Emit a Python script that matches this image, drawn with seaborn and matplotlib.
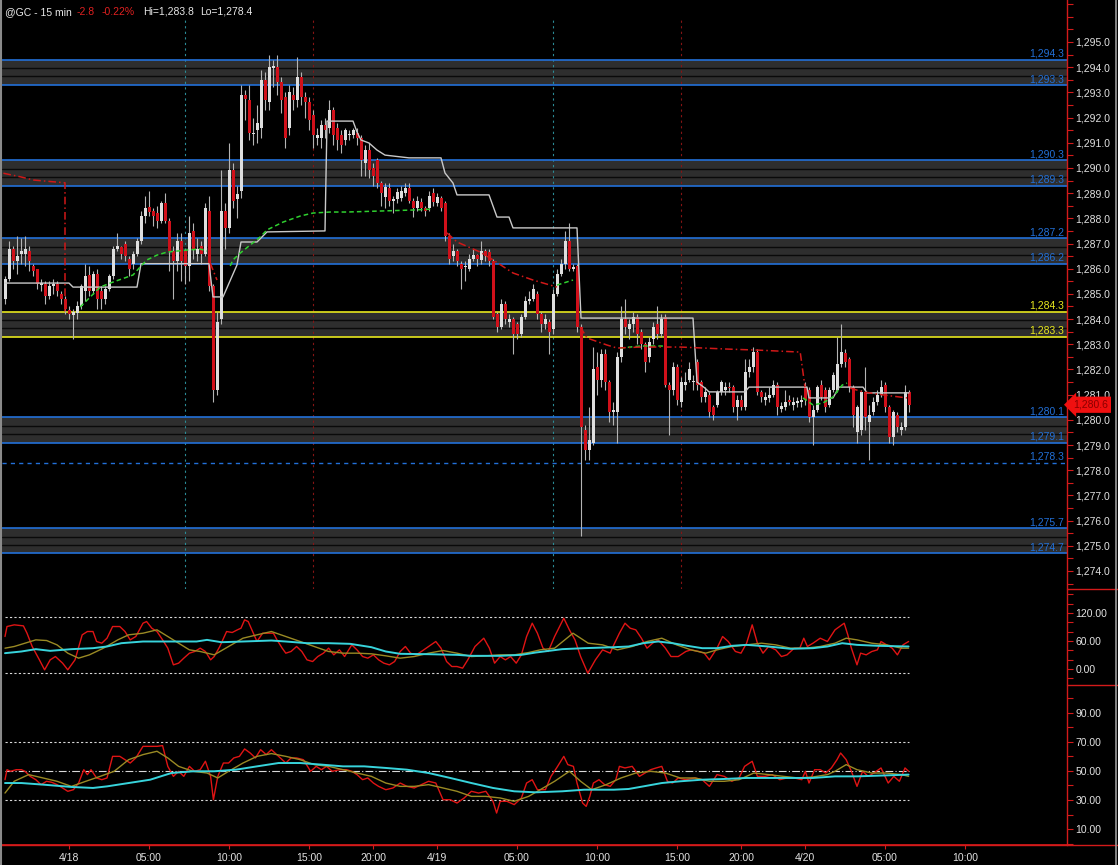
import numpy as np
import pandas as pd
import matplotlib
matplotlib.use("Agg")
import matplotlib.pyplot as plt
import seaborn as sns
from matplotlib.lines import Line2D
from matplotlib.ticker import MultipleLocator, FuncFormatter
from matplotlib.transforms import blended_transform_factory

# ---------------- price bars (15 min, bar index 0 = 4/17 20:00) ----------------
opens = [1284.8, 1285.6, 1286.8, 1286.3, 1286.6, 1286.6, 1286.7, 1286.1, 1286.0, 1285.35,
         1285.4, 1284.9, 1285.3, 1285.4, 1285.0, 1284.8, 1284.35, 1284.15, 1284.25, 1284.5,
         1285.1, 1285.75, 1285.1, 1285.8, 1285.1, 1284.8, 1285.2, 1285.7, 1286.8, 1286.85,
         1287.0, 1286.4, 1286.2, 1286.6, 1287.1, 1288.1, 1288.45, 1288.3, 1288.2, 1287.9,
         1288.6, 1287.9, 1286.7, 1286.3, 1287.1, 1286.7, 1286.1, 1287.5, 1286.6, 1286.9,
         1286.6, 1288.3, 1285.3, 1281.2, 1284.0, 1288.3, 1287.6, 1289.9, 1288.75, 1289.1,
         1292.9, 1292.7, 1291.35, 1291.5, 1291.6, 1293.5, 1292.6, 1293.95, 1294.0, 1293.4,
         1292.8, 1291.6, 1292.9, 1292.7, 1293.6, 1292.8, 1292.6, 1292.1, 1291.2, 1291.2,
         1291.7, 1291.6, 1292.3, 1291.6, 1291.3, 1291.1, 1291.3, 1291.3, 1291.4, 1291.2,
         1290.2, 1290.7, 1290.0, 1290.3, 1289.4, 1288.85, 1289.2, 1288.7, 1288.75, 1288.8,
         1289.0, 1289.2, 1288.7, 1288.4, 1288.65, 1288.4, 1288.4, 1289.0, 1288.6, 1288.8,
         1288.6, 1287.3, 1286.5, 1286.7, 1286.2, 1286.05, 1286.0, 1286.4, 1286.55, 1286.35,
         1286.7, 1286.65, 1286.3, 1284.2, 1283.7, 1284.6, 1283.9, 1284.0, 1283.8, 1283.4,
         1284.1, 1284.7, 1284.8, 1285.0, 1284.2, 1283.8, 1283.9, 1283.6, 1285.0, 1285.8,
         1286.2, 1287.1, 1286.0, 1286.1, 1283.7, 1279.6, 1278.8, 1279.1, 1282.1, 1281.6,
         1282.6, 1281.5, 1280.3, 1280.3, 1282.5, 1284.0, 1283.6, 1283.8, 1284.1, 1283.5,
         1283.0, 1282.5, 1283.2, 1283.8, 1283.4, 1284.1, 1281.4, 1281.2, 1282.1, 1280.7,
         1281.4, 1281.6, 1281.5, 1282.3, 1281.5, 1280.9, 1281.0, 1280.5, 1280.6, 1281.1,
         1281.2, 1281.3, 1281.3, 1280.5, 1280.8, 1280.5, 1281.9, 1282.1, 1282.7, 1281.1,
         1280.8, 1280.85, 1281.0, 1281.4, 1280.45, 1280.5, 1280.8, 1280.6, 1280.65, 1280.7,
         1281.3, 1281.2, 1280.1, 1280.4, 1281.4, 1281.2, 1280.6, 1281.2, 1281.2, 1282.2,
         1282.65, 1282.4, 1281.3, 1279.5, 1279.6, 1281.1, 1279.9, 1280.3, 1280.7, 1281.0,
         1281.4, 1280.5, 1279.3, 1280.2, 1279.6, 1279.7, 1281.1]
highs = [1285.7, 1287.1, 1286.9, 1287.3, 1287.2, 1287.3, 1286.9, 1286.2, 1286.0, 1285.6,
         1285.5, 1285.5, 1285.6, 1285.5, 1285.1, 1284.9, 1284.5, 1284.4, 1284.7, 1285.4,
         1286.2, 1286.1, 1285.9, 1286.0, 1285.3, 1285.3, 1285.8, 1286.9, 1287.4, 1286.9,
         1287.1, 1286.5, 1286.7, 1287.2, 1288.3, 1288.9, 1289.1, 1288.4, 1288.5, 1288.7,
         1289.0, 1288.0, 1286.9, 1287.4, 1287.4, 1286.8, 1288.1, 1287.8, 1287.2, 1287.1,
         1288.6, 1288.9, 1285.4, 1284.3, 1289.9, 1288.6, 1291.0, 1290.2, 1289.3, 1293.3,
         1293.1, 1293.3, 1292.0, 1292.5, 1293.9, 1293.8, 1294.5, 1294.3, 1294.5, 1293.6,
         1293.0, 1293.3, 1293.2, 1294.4, 1293.8, 1293.0, 1292.8, 1292.3, 1291.6, 1291.9,
         1292.0, 1292.7, 1292.4, 1291.8, 1291.5, 1291.6, 1291.5, 1291.6, 1291.6, 1291.3,
         1290.9, 1291.0, 1290.2, 1290.4, 1289.5, 1289.4, 1289.4, 1288.9, 1289.2, 1289.3,
         1289.4, 1289.4, 1288.8, 1288.9, 1288.8, 1288.5, 1289.1, 1289.2, 1289.0, 1288.9,
         1288.7, 1287.4, 1287.0, 1286.8, 1286.3, 1286.3, 1286.6, 1286.8, 1286.6, 1287.1,
         1286.8, 1286.8, 1286.4, 1284.3, 1284.8, 1284.7, 1284.2, 1284.1, 1283.9, 1284.2,
         1284.9, 1285.1, 1285.4, 1285.1, 1284.3, 1284.2, 1284.0, 1285.2, 1286.0, 1286.4,
         1287.5, 1287.8, 1286.2, 1286.2, 1283.8, 1279.8, 1280.5, 1282.9, 1282.7, 1282.8,
         1282.8, 1281.6, 1280.7, 1282.7, 1284.5, 1284.8, 1284.0, 1284.3, 1284.2, 1283.6,
         1283.1, 1283.3, 1283.9, 1284.5, 1284.2, 1284.2, 1281.5, 1282.3, 1282.2, 1281.7,
         1281.9, 1282.3, 1281.8, 1282.4, 1281.6, 1281.3, 1281.1, 1280.6, 1281.2, 1281.6,
         1281.5, 1281.5, 1281.4, 1281.0, 1281.0, 1282.4, 1282.4, 1282.9, 1282.8, 1281.2,
         1281.1, 1281.3, 1281.6, 1281.5, 1280.7, 1281.2, 1281.0, 1280.9, 1280.9, 1281.0,
         1281.5, 1281.3, 1280.6, 1281.4, 1281.6, 1281.3, 1281.3, 1281.9, 1283.3, 1283.8,
         1282.8, 1282.5, 1281.4, 1280.6, 1281.2, 1282.1, 1280.6, 1280.9, 1281.2, 1281.6,
         1281.5, 1280.6, 1280.4, 1280.3, 1279.9, 1281.4, 1281.2]
lows = [1284.6, 1285.5, 1286.0, 1285.8, 1286.2, 1286.1, 1285.9, 1285.7, 1285.2, 1285.1,
        1284.6, 1284.8, 1285.0, 1284.9, 1284.6, 1284.2, 1284.0, 1283.2, 1284.0, 1284.4,
        1284.7, 1284.9, 1285.0, 1284.4, 1284.4, 1284.6, 1285.1, 1285.6, 1286.7, 1286.4,
        1286.3, 1285.7, 1286.0, 1286.5, 1287.0, 1287.8, 1288.1, 1287.7, 1287.6, 1287.8,
        1287.8, 1285.9, 1284.8, 1285.9, 1285.5, 1285.4, 1285.5, 1286.4, 1286.3, 1286.2,
        1286.5, 1285.1, 1280.7, 1281.0, 1283.8, 1286.8, 1287.4, 1288.4, 1288.0, 1288.8,
        1291.9, 1291.1, 1290.9, 1291.0, 1291.2, 1292.3, 1292.3, 1293.2, 1292.9, 1292.2,
        1290.8, 1291.3, 1292.3, 1292.4, 1292.5, 1292.0, 1291.5, 1290.8, 1290.9, 1290.8,
        1291.2, 1291.4, 1290.9, 1290.7, 1290.6, 1290.9, 1291.1, 1291.2, 1290.9, 1289.7,
        1289.7, 1289.6, 1289.3, 1289.2, 1288.5, 1288.4, 1288.5, 1288.2, 1288.6, 1288.7,
        1288.9, 1288.6, 1288.05, 1288.3, 1288.3, 1288.1, 1288.3, 1288.5, 1288.5, 1288.3,
        1287.1, 1286.2, 1286.3, 1286.1, 1285.2, 1285.5, 1285.9, 1286.3, 1286.1, 1286.2,
        1286.3, 1286.1, 1284.0, 1283.5, 1283.6, 1283.8, 1283.7, 1282.6, 1283.2, 1283.3,
        1284.0, 1284.6, 1284.7, 1284.0, 1283.5, 1283.6, 1282.6, 1283.4, 1284.9, 1285.7,
        1286.0, 1285.9, 1285.9, 1283.5, 1275.4, 1278.4, 1278.4, 1279.0, 1281.0, 1281.3,
        1281.2, 1279.9, 1279.8, 1279.1, 1282.3, 1283.4, 1283.2, 1283.5, 1283.0, 1282.8,
        1281.9, 1282.3, 1283.0, 1283.2, 1283.3, 1281.3, 1279.4, 1281.0, 1280.6, 1280.5,
        1281.2, 1281.5, 1281.2, 1281.2, 1280.7, 1280.7, 1280.1, 1280.0, 1280.5, 1281.0,
        1281.0, 1281.1, 1280.3, 1280.0, 1280.4, 1280.4, 1281.7, 1281.9, 1281.0, 1280.7,
        1280.6, 1280.7, 1280.9, 1280.2, 1280.3, 1280.4, 1280.6, 1280.4, 1280.5, 1280.5,
        1280.6, 1279.9, 1279.0, 1280.3, 1280.8, 1280.3, 1280.5, 1281.1, 1281.1, 1282.1,
        1282.1, 1281.1, 1279.7, 1279.1, 1279.4, 1279.6, 1278.4, 1280.2, 1280.6, 1280.9,
        1280.3, 1279.1, 1279.0, 1279.5, 1279.4, 1279.6, 1280.3]
closes = [1285.6, 1286.8, 1286.3, 1286.5, 1286.7, 1286.8, 1286.3, 1285.9, 1285.4, 1285.45,
          1284.9, 1285.3, 1285.4, 1285.1, 1284.8, 1284.4, 1284.2, 1284.3, 1284.5, 1285.3,
          1285.7, 1285.1, 1285.8, 1284.8, 1284.8, 1285.2, 1285.7, 1286.8, 1286.9, 1286.6,
          1286.5, 1286.0, 1286.6, 1287.1, 1288.1, 1288.4, 1288.25, 1288.1, 1287.9, 1288.6,
          1287.9, 1286.7, 1286.3, 1287.1, 1286.3, 1286.1, 1287.4, 1286.8, 1286.8, 1286.6,
          1288.4, 1285.3, 1281.2, 1283.9, 1288.3, 1287.6, 1289.9, 1288.7, 1288.95, 1292.9,
          1292.75, 1291.4, 1291.4, 1291.8, 1293.5, 1292.7, 1294.0, 1294.05, 1293.4, 1292.7,
          1291.2, 1293.0, 1292.7, 1293.6, 1292.8, 1292.6, 1291.9, 1291.3, 1291.3, 1291.7,
          1291.5, 1292.3, 1291.3, 1291.1, 1290.9, 1291.5, 1291.35, 1291.5, 1291.2, 1290.3,
          1290.7, 1289.9, 1289.7, 1289.4, 1289.0, 1289.25, 1288.7, 1288.75, 1289.05, 1289.1,
          1289.2, 1288.7, 1288.4, 1288.7, 1288.4, 1288.3, 1288.9, 1288.65, 1288.85, 1288.4,
          1287.3, 1286.4, 1286.7, 1286.3, 1286.0, 1286.1, 1286.4, 1286.55, 1286.4, 1286.7,
          1286.5, 1286.3, 1284.1, 1283.7, 1284.6, 1284.0, 1284.0, 1283.4, 1283.4, 1284.1,
          1284.7, 1284.8, 1285.2, 1284.2, 1283.8, 1284.0, 1283.5, 1285.0, 1285.8, 1286.2,
          1287.1, 1286.0, 1286.05, 1283.7, 1279.7, 1278.8, 1279.2, 1282.0, 1281.6, 1282.6,
          1281.5, 1280.3, 1280.4, 1282.5, 1284.0, 1283.7, 1283.8, 1284.1, 1283.4, 1283.0,
          1282.3, 1283.1, 1283.7, 1283.4, 1284.0, 1281.4, 1281.2, 1282.1, 1280.8, 1281.5,
          1281.5, 1282.0, 1281.55, 1281.4, 1280.9, 1281.1, 1280.3, 1280.2, 1281.1, 1281.5,
          1281.3, 1281.25, 1280.5, 1280.8, 1280.5, 1281.9, 1282.1, 1282.7, 1281.1, 1280.9,
          1280.9, 1281.0, 1281.4, 1280.5, 1280.55, 1280.7, 1280.7, 1280.7, 1280.75, 1280.8,
          1280.8, 1280.1, 1280.4, 1281.3, 1280.9, 1280.5, 1281.2, 1281.8, 1282.2, 1282.7,
          1282.3, 1281.3, 1280.2, 1280.5, 1281.1, 1280.1, 1280.2, 1280.7, 1281.0, 1281.3,
          1280.5, 1279.3, 1280.3, 1279.7, 1279.7, 1281.1, 1280.6]

# ---------------- time axis ----------------
tick_pos = [16, 36, 56, 76, 92, 108, 128, 148, 168, 184, 200, 220, 240]
tick_labels = ["4/18", "05:00", "10:00", "15:00", "20:00", "4/19", "05:00",
               "10:00", "15:00", "20:00", "4/20", "05:00", "10:00"]
session_cyan = [45, 137]
session_red = [77, 169]

# ---------------- horizontal zones ----------------
zone_low = [1293.3, 1289.3, 1286.2, 1283.3, 1279.1, 1274.7]
zone_high = [1294.3, 1290.3, 1287.2, 1284.3, 1280.1, 1275.7]
zone_kind = ["blue", "blue", "blue", "yellow", "blue", "blue"]
dashed_level = 1278.3
last_price = 1280.6

# ---------------- overlay lines on price ----------------
trail_x = [0, 16, 17, 33, 34, 51, 52, 54.5, 58, 59, 63, 65.5, 80, 80.5, 87, 88, 89, 91, 93, 95,
           101, 109, 110, 112, 113, 121, 123, 126, 127, 143, 144, 172, 173, 175, 176, 185, 186,
           200.5, 201, 207, 208.5, 214.5, 215.5, 226]
trail_y = [1285.43, 1285.43, 1285.27, 1285.27, 1286.2, 1286.2, 1284.88, 1284.88, 1286.15, 1287.06,
           1287.06, 1287.46, 1287.5, 1291.86, 1291.86, 1291.43, 1291.11, 1290.99, 1290.71, 1290.51,
           1290.4, 1290.4, 1289.8, 1289.4, 1288.93, 1288.93, 1288.05, 1288.05, 1287.62, 1287.62,
           1284.04, 1284.04, 1281.5, 1281.26, 1281.11, 1281.11, 1281.3,
           1281.3, 1280.87, 1280.87, 1281.3, 1281.3, 1281.07, 1281.07]

green_x = [[18.8, 23.8, 26.3, 32.0, 33.8, 35.5, 38.0, 40.5, 43.0, 45.5, 48.8, 50.5],
           [56.3, 57.0, 58.8, 61.3, 63.8, 65.5, 69.5, 73.8, 77.0, 81.3, 85.5, 93.8, 102.0, 107.0],
           [138.0, 142.0],
           [153.8, 158.8, 164.5],
           [199.5, 202.0, 204.5, 207.0, 209.3, 210.5]]
green_y = [[1284.48, 1285.27, 1285.43, 1285.75, 1286.07, 1286.35, 1286.54, 1286.66, 1286.7, 1286.74, 1286.78, 1286.7],
           [1286.11, 1286.35, 1286.62, 1286.94, 1287.26, 1287.54, 1287.85, 1288.09, 1288.21, 1288.25, 1288.25, 1288.29, 1288.33, 1288.37],
           [1285.35, 1285.55],
           [1282.85, 1282.93, 1282.93],
           [1280.87, 1280.59, 1280.67, 1280.91, 1281.38, 1281.46]]
redline_x = [[-0.4, 3.8, 7.1, 15.0, 15.0],
             [51.3, 53.0],
             [110.5, 113.0, 118.8, 122.0, 127.0, 132.0, 138.0],
             [143.8, 145.5, 150.5, 153.0, 158.8, 168.8, 180.5, 188.0, 198.8, 200.0],
             [211.3, 214.5, 219.5, 225.5]]
redline_y = [[1289.79, 1289.65, 1289.52, 1289.41, 1284.24],
             [1286.23, 1285.55],
             [1287.42, 1287.06, 1286.66, 1286.35, 1285.83, 1285.55, 1285.27],
             [1283.69, 1283.25, 1282.97, 1282.85, 1282.89, 1282.89, 1282.81, 1282.77, 1282.69, 1281.3],
             [1281.26, 1281.11, 1280.99, 1280.87]]

# ---------------- oscillator 1 ----------------
osc1_x = [0, 0.5, 2.3, 4.6, 5.5, 6.8, 8.6, 9.9, 11.3, 12.6,
          14.4, 15.7, 17.5, 19.3, 20.6, 22.0, 22.9, 24.2, 25.5, 26.9,
          28.7, 30.0, 31.3, 32.7, 34.5, 35.4, 36.7, 38.0, 39.4, 40.7,
          42.1, 43.4, 44.7, 46.1, 47.4, 48.8, 50.1, 51.4, 52.3, 53.7,
          55.4, 56.8, 58.1, 59.0, 59.9, 60.8, 62.1, 63.0, 64.4, 65.7,
          67.1, 68.0, 69.3, 70.2, 71.5, 72.9, 74.2, 75.5, 76.9, 78.2,
          79.6, 80.9, 82.2, 83.6, 84.9, 86.7, 88.0, 89.4, 90.7, 92.1,
          93.4, 94.7, 96.1, 97.4, 98.8, 100.1, 101.4, 102.8, 104.1, 105.9,
          107.7, 109.0, 110.4, 111.7, 113.0, 114.4, 115.7, 117.5, 119.7, 121.1,
          122.4, 123.8, 125.1, 126.4, 127.8, 129.1, 130.4, 131.8, 133.1, 134.5,
          135.8,
          137.4, 139.7, 141.1, 142.5, 143.9, 145.7, 147.6, 149.4, 151.3, 152.2,
          153.6, 155.0, 156.3, 157.7, 159.1, 160.5, 161.9, 163.3, 165.1, 166.5,
          168.3, 170.2, 171.5, 173.4, 174.8, 176.1, 178.0, 179.4, 180.8, 182.6,
          184.0, 185.4, 186.8, 188.1, 189.5, 190.9, 192.7, 194.1, 195.5, 197.3,
          198.7, 199.7, 200.6, 202.0, 203.8, 205.6, 207.5, 209.8, 210.7, 211.6,
          213.0, 213.9, 215.3, 216.7, 218.1, 219.0, 220.4, 221.8, 223.1, 224.5,
          225.9]
osc1_fast = [69.6, 91.0, 94.6, 92.4, 76.7, 48.2, 19.6, -1.8, 19.6, 26.7,
             12.5, -1.8, 19.6, 73.2, 80.3, 80.3, 58.9, 55.3, 66.0, 91.0,
             91.0, 80.3, 62.4, 69.6, 98.1, 101.7, 87.4, 80.3, 62.4, 44.6,
             8.9, 12.5, 23.2, 33.9, 37.5, 44.6, 37.5, 19.6, 26.7, 48.2,
             80.3, 78.2, 83.9, 87.4, 105.3, 101.7, 76.7, 58.9, 76.7, 76.7,
             76.7, 62.4, 44.6, 33.9, 37.5, 48.2, 37.5, 19.6, 16.0, 26.7,
             33.9, 44.6, 30.3, 41.0, 26.7, 51.7, 41.0, 26.7, 23.2, 30.3,
             19.6, 12.5, 8.9, 16.0, 37.5, 48.2, 33.9, 30.3, 37.5, 48.2,
             58.9, 44.6, 16.0, 5.3, 5.3, 1.8, 19.6, 48.2, 66.0, 44.6,
             12.5, 26.7, 19.6, 26.7, 12.5, 30.3, 69.6, 98.1, 76.7, 44.6,
             37.5,
             69.6, 108.9, 83.9, 62.4, 26.7, -9.0, 19.6, 41.0, 33.9, 51.7,
             76.7, 98.1, 87.4, 83.9, 66.0, 44.6, 55.3, 62.4, 44.6, 26.7,
             26.7, 37.5, 41.0, 37.5, 33.9, 19.6, 44.6, 69.6, 58.9, 37.5,
             33.9, 55.3, 94.6, 55.3, 33.9, 48.2, 41.0, 26.7, 30.3, 44.6,
             44.6, 66.0, 48.2, 55.3, 66.0, 58.9, 83.9, 98.1, 73.2, 44.6,
             8.9, 33.9, 30.3, 37.5, 41.0, 58.9, 51.7, 44.6, 30.3, 51.7,
             58.9]
osc1_mid_x = [0, 2.3, 5.0, 7.7, 10.4, 13.0, 15.7, 18.4, 21.1, 24.6,
              28.2, 30.9, 34.5, 38.0, 40.7, 43.4, 46.1, 48.8, 52.3, 55.9,
              59.5, 63.0, 66.6, 70.2, 73.8, 77.3, 80.9, 84.5, 88.0, 91.6,
              95.2, 98.8, 102.3, 105.9, 109.5, 113.0, 116.6, 120.2, 123.8, 127.3,
              130.9, 133.8, 137.4, 142.0, 145.8, 149.4, 153.1, 156.8, 160.5, 164.2,
              167.9, 171.5, 175.2, 178.0, 181.7, 185.4, 189.1, 192.7, 196.4, 200.1,
              203.8, 207.5, 210.3, 213.0, 216.7, 220.4, 224.1, 225.9]
osc1_mid = [44.6, 48.2, 55.3, 62.4, 61.0, 51.7, 33.9, 23.2, 30.3, 44.6,
            62.4, 73.2, 76.7, 83.9, 69.6, 55.3, 41.0, 37.5, 30.3, 48.2,
            66.0, 73.2, 80.3, 69.6, 58.9, 48.2, 37.5, 33.9, 33.9, 32.5,
            28.2, 23.2, 26.7, 33.9, 39.6, 33.9, 26.7, 28.2, 30.3, 30.3,
            35.3, 41.0, 44.6, 76.7, 55.3, 51.7, 41.0, 48.2, 58.9, 66.0,
            51.7, 41.0, 33.9, 41.0, 48.2, 51.7, 55.3, 51.7, 44.6, 44.6,
            48.2, 55.3, 66.0, 62.4, 55.3, 51.7, 44.6, 44.6]
osc1_slow_x = [0, 4.1, 7.7, 11.3, 16.6, 22.0, 25.5, 29.1, 34.5, 43.4,
               47.9, 50.5, 54.1, 59.5, 66.6, 70.2, 75.5, 80.9, 86.3, 91.6,
               95.2, 98.8, 105.9, 113.0, 116.6, 123.8, 129.1, 132.7, 139.3, 144.8,
               152.2, 155.9, 159.6, 163.3, 166.9, 170.6, 174.3, 178.0, 181.7, 185.4,
               190.9, 196.4, 202.0, 205.6, 209.3, 213.0, 218.5, 225.9]
osc1_slow = [33.9, 37.5, 42.5, 38.9, 42.5, 44.6, 48.2, 55.3, 58.9, 58.9,
             58.9, 62.4, 57.4, 58.9, 61.0, 58.9, 55.3, 55.3, 53.9, 46.7,
             37.5, 32.5, 31.7, 30.3, 28.2, 28.2, 30.3, 35.3, 42.5, 44.6,
             46.7, 48.2, 55.3, 58.9, 55.3, 49.6, 44.6, 44.6, 49.6, 51.7,
             48.2, 43.2, 44.6, 48.2, 55.3, 51.7, 49.6, 48.2]
osc1_levels = [111, -9]

# ---------------- oscillator 2 ----------------
osc2_x = [0, 0.5, 1.4, 2.8, 4.1, 5.0, 6.3, 7.7, 9.0, 10.4,
          11.7, 13.0, 14.4, 15.7, 17.1, 18.4, 19.7, 20.6, 21.5, 22.9,
          24.2, 25.5, 26.9, 28.7, 30.0, 31.3, 32.7, 34.5, 36.3, 38.0,
          39.4, 40.7, 42.1, 43.4, 44.7, 46.1, 47.4, 48.8, 50.1, 51.4,
          52.1, 53.2, 54.6, 55.9, 57.2, 58.6, 59.9, 61.3, 62.6, 63.9,
          65.3, 66.6, 68.4, 70.2, 71.5, 72.9, 74.6, 76.4, 77.8, 79.1,
          80.4, 81.8, 83.6, 85.4, 86.7, 88.0, 89.4, 90.7, 92.1, 93.4,
          95.2, 97.0, 98.8, 100.5, 102.3, 104.1, 105.9, 107.7, 109.5, 111.3,
          113.0, 114.8, 116.6, 118.4, 120.2, 122.0, 122.9, 123.8, 125.5, 127.3,
          129.1, 130.4, 131.8, 133.1, 135.1, 136.5, 137.9, 139.7, 140.7, 142.1,
          143.0, 144.4, 145.3, 146.2, 147.1, 148.5, 149.9, 151.3, 152.7, 153.6,
          155.0, 156.8, 158.6, 160.0, 161.4, 162.8, 164.2, 165.6, 166.9, 168.3,
          170.2, 172.5, 174.3, 176.1, 178.0, 179.8, 181.7, 183.5, 184.9, 186.8,
          188.1, 190.0, 191.8, 193.7, 195.5, 197.3, 199.2, 200.1, 201.0, 202.4,
          203.8, 205.2, 206.6, 208.0, 208.9, 210.3, 211.6, 213.0, 214.4, 215.8,
          217.2, 219.0, 220.8, 222.2, 223.6, 225.0, 225.9]
osc2_fast = [44.0, 50.9, 49.8, 50.9, 50.9, 49.8, 46.3, 44.0, 40.6, 42.9,
             42.2, 40.6, 38.3, 36.0, 37.1, 41.7, 50.9, 47.5, 50.9, 45.2,
             44.0, 45.2, 60.1, 60.1, 57.8, 55.5, 59.0, 67.0, 67.0, 67.0,
             67.5, 53.2, 46.3, 49.8, 46.3, 53.2, 49.8, 50.9, 56.7, 46.3,
             30.2, 46.3, 55.5, 55.5, 59.0, 60.1, 65.2, 62.4, 59.0, 64.7,
             61.3, 64.7, 60.1, 55.5, 59.0, 59.0, 57.8, 49.8, 53.2, 50.9,
             53.2, 49.8, 50.9, 50.9, 49.8, 47.5, 44.0, 45.2, 41.7, 39.4,
             37.1, 38.3, 41.7, 39.4, 38.3, 40.6, 42.9, 41.7, 30.2, 30.2,
             27.9, 31.4, 36.0, 34.8, 36.0, 29.1, 21.0, 29.1, 29.1, 26.8,
             31.4, 41.7, 44.0, 37.1, 37.1, 46.3, 52.1, 60.1, 54.4, 53.2,
             41.7, 27.9, 25.6, 32.5, 41.7, 44.0, 40.6, 39.4, 44.0, 53.2,
             52.1, 53.2, 46.3, 48.6, 50.9, 52.1, 53.2, 42.9, 41.7, 45.2,
             44.0, 45.2, 44.0, 39.4, 47.5, 46.3, 42.9, 45.2, 53.2, 56.7,
             46.3, 46.3, 47.5, 44.0, 45.2, 45.2, 44.0, 49.8, 41.7, 50.9,
             50.9, 48.6, 52.1, 57.8, 62.4, 57.8, 49.8, 39.4, 49.8, 46.3,
             48.6, 52.1, 41.7, 46.3, 42.9, 52.1, 49.8]
osc2_mid_x = [0, 2.3, 5.9, 9.5, 13.0, 16.6, 20.2, 23.8, 27.3, 30.9,
              34.5, 38.0, 40.7, 43.4, 47.0, 50.5, 53.2, 55.9, 59.5, 63.0,
              66.6, 70.2, 73.8, 77.3, 80.9, 84.5, 88.0, 91.6, 95.2, 98.8,
              102.3, 105.9, 109.5, 113.0, 116.6, 120.2, 123.8, 127.3, 130.9, 133.8,
              137.4, 141.1, 143.9, 146.7, 150.3, 154.0, 157.7, 161.4, 165.1, 168.8,
              172.5, 176.1, 179.8, 183.5, 187.2, 190.9, 194.6, 198.3, 202.0, 205.6,
              207.5, 210.3, 213.0, 216.7, 220.4, 224.1, 225.9]
osc2_mid = [34.8, 42.9, 47.5, 45.2, 42.9, 39.4, 42.9, 46.3, 49.8, 57.8,
            61.3, 63.6, 59.0, 53.2, 49.8, 48.6, 45.2, 49.8, 55.5, 60.1,
            62.0, 60.1, 57.8, 54.4, 53.2, 50.9, 48.6, 46.3, 41.7, 39.4,
            39.4, 40.6, 38.3, 36.0, 32.5, 32.5, 31.4, 29.1, 32.5, 37.1,
            42.9, 49.8, 42.9, 37.1, 40.6, 45.2, 48.6, 49.8, 48.6, 45.2,
            45.2, 42.9, 42.9, 44.0, 48.6, 47.5, 46.3, 45.2, 45.9, 47.5,
            49.8, 54.4, 50.9, 48.6, 48.6, 47.5, 46.3]
osc2_slow_x = [0, 4.1, 9.5, 16.6, 22.0, 25.5, 30.9, 36.3, 41.6, 47.0,
               52.3, 57.7, 63.0, 68.4, 73.8, 79.1, 84.5, 89.8, 95.2, 100.5,
               105.9, 111.3, 116.6, 122.0, 127.3, 132.7, 139.3, 144.8, 152.2, 155.9,
               159.6, 164.2, 168.8, 174.3, 179.8, 185.4, 190.9, 196.4, 202.0, 207.5,
               213.0, 218.5, 225.9]
osc2_slow = [41.7, 41.7, 40.6, 39.0, 38.3, 39.4, 41.7, 44.0, 48.6, 49.8,
             49.8, 50.9, 53.2, 55.5, 55.5, 54.4, 53.2, 53.2, 52.1, 50.9,
             48.6, 45.2, 41.7, 38.3, 36.0, 35.3, 36.0, 37.1, 37.1, 37.6,
             39.4, 41.7, 42.9, 44.0, 44.5, 45.2, 45.2, 45.2, 45.2, 46.3,
             46.3, 46.8, 47.5]
osc2_levels = [70, 30]
osc2_mid_level = 50

# ---------------- styling ----------------
sns.set_theme(style="dark", rc={"figure.facecolor": "black", "axes.facecolor": "black",
                                "savefig.facecolor": "black", "axes.grid": False,
                                "text.color": "#e6e6e6"})
plt.rcParams["font.family"] = ["Liberation Sans", "DejaVu Sans"]

RED = "#d41a1a"
BLUE = "#2270d8"
YELLOW = "#e8e81e"
LABEL = "#e2e2e2"
W, H = 1118, 865
fig = plt.figure(figsize=(W / 100, H / 100), dpi=100)


def rect(x0, y0, x1, y1):
    return [x0 / W, 1 - y1 / H, (x1 - x0) / W, (y1 - y0) / H]


ax = fig.add_axes(rect(2, 0, 1067, 589))
ax1 = fig.add_axes(rect(2, 589, 1067, 685))
ax2 = fig.add_axes(rect(2, 685, 1067, 845))
XL = (-0.75, 265.5)

# ---- price panel ----
o = np.array(opens); h = np.array(highs); l = np.array(lows); c = np.array(closes)
idx = np.arange(len(c))
up = c >= o
body_col = np.where(up, "#dedede", "#d0101a")
ax.vlines(idx, l, h, colors="#b4b4b4", lw=0.8, zorder=3)
ax.bar(idx, np.maximum(np.abs(c - o), 0.045), bottom=np.minimum(o, c), width=0.75,
       color=body_col, linewidth=0, zorder=4)

btr = blended_transform_factory(ax.transAxes, ax.transData)
for lo, hi, kind in zip(zone_low, zone_high, zone_kind):
    col = BLUE if kind == "blue" else YELLOW
    ax.axhspan(lo, hi, color="#2e2e2e", lw=0, zorder=0.5)
    for k in (1, 2):
        ax.axhline(lo + (hi - lo) * k / 3, color="#0a0a0a", lw=1.0, zorder=0.6)
    for lev in (lo, hi):
        ax.axhline(lev, color=col, lw=1.2, zorder=1)
        ax.text(1 - 3 / 1065, lev + 0.03, f"{lev:,.1f}", transform=btr, ha="right",
                va="bottom", color=col, fontsize=7.5, zorder=6)
ax.axhline(dashed_level, color=BLUE, lw=1.0, ls=(0, (3, 3)), zorder=1)
ax.text(1 - 3 / 1065, dashed_level + 0.03, f"{dashed_level:,.1f}", transform=btr, ha="right",
        va="bottom", color=BLUE, fontsize=7.5)

top_frac = 1 - 18 / 589
for xv in session_cyan:
    ax.axvline(xv, ymax=top_frac, color="#2b8c96", lw=0.8, ls=(0, (2, 3)), zorder=0.8)
for xv in session_red:
    ax.axvline(xv, ymax=top_frac, color="#861414", lw=0.8, ls=(0, (2, 3)), zorder=0.8)

sns.lineplot(x=trail_x, y=trail_y, ax=ax, color="#c9c9c9", lw=1.0, estimator=None,
             sort=False, zorder=5)
gdf = pd.DataFrame({"x": sum(green_x, []), "y": sum(green_y, []),
                    "seg": sum([[k] * len(s) for k, s in enumerate(green_x)], [])})
sns.lineplot(data=gdf, x="x", y="y", units="seg", estimator=None, sort=False, ax=ax,
             color="#2fd02f", lw=1.1, linestyle=(0, (3, 2)), zorder=5)
rdf = pd.DataFrame({"x": sum(redline_x, []), "y": sum(redline_y, []),
                    "seg": sum([[k] * len(s) for k, s in enumerate(redline_x)], [])})
sns.lineplot(data=rdf, x="x", y="y", units="seg", estimator=None, sort=False, ax=ax,
             color="#d01818", lw=1.1, linestyle=(0, (5, 2, 1, 2)), zorder=5)

ax.set_ylim(1273.285, 1296.667)
ax.set_yticks(np.arange(1274, 1296, 1.0))
ax.yaxis.set_major_formatter(FuncFormatter(lambda v, p: f"{v:,.1f}"))
ax.yaxis.set_minor_locator(MultipleLocator(0.5))

ax.text(1.0 + 6 / 1065, last_price, f"{last_price:,.1f}", transform=btr, ha="left",
        va="center", color="#8a0000", fontsize=7.5, zorder=10,
        bbox=dict(boxstyle="larrow,pad=0.3", fc="#f01010", ec="none"))

# ---- oscillator 1 ----
ax1.hlines(osc1_levels, 0, 226, colors="#d8d8d8", lw=0.8, linestyles=[(0, (2, 2))])
sns.lineplot(x=osc1_x, y=osc1_fast, ax=ax1, color="#e01414", lw=1.0, estimator=None, sort=False)
sns.lineplot(x=osc1_mid_x, y=osc1_mid, ax=ax1, color="#9a8a24", lw=1.0, estimator=None, sort=False)
sns.lineplot(x=osc1_slow_x, y=osc1_slow, ax=ax1, color="#38d4dc", lw=1.4, estimator=None, sort=False)
ax1.set_ylim(-34.3, 171.4)
ax1.set_yticks([0, 60, 120])
ax1.yaxis.set_major_formatter(FuncFormatter(lambda v, p: f"{v:.2f}"))
ax1.yaxis.set_minor_locator(MultipleLocator(20))

# ---- oscillator 2 ----
ax2.hlines(osc2_levels, 0, 226, colors="#d8d8d8", lw=0.8, linestyles=[(0, (2, 2))])
ax2.hlines([osc2_mid_level], 0, 226, colors="#d8d8d8", lw=0.8, linestyles=[(0, (7, 2, 1, 2))])
sns.lineplot(x=osc2_x, y=osc2_fast, ax=ax2, color="#e01414", lw=1.0, estimator=None, sort=False)
sns.lineplot(x=osc2_mid_x, y=osc2_mid, ax=ax2, color="#9a8a24", lw=1.0, estimator=None, sort=False)
sns.lineplot(x=osc2_slow_x, y=osc2_slow, ax=ax2, color="#38d4dc", lw=1.4, estimator=None, sort=False)
ax2.set_ylim(-1.03, 109.3)
ax2.set_yticks([10, 30, 50, 70, 90])
ax2.yaxis.set_major_formatter(FuncFormatter(lambda v, p: f"{v:.2f}"))
ax2.yaxis.set_minor_locator(MultipleLocator(10))

for a in (ax, ax1, ax2):
    a.set_facecolor("black")
    a.set_xlim(*XL)
    a.set_xlabel("")
    a.set_ylabel("")
    for s in ("top", "left", "bottom"):
        a.spines[s].set_visible(False)
    a.spines["right"].set_color(RED)
    a.spines["right"].set_linewidth(1.0)
    a.yaxis.tick_right()
    a.tick_params(axis="y", which="both", colors=RED, labelcolor=LABEL, direction="out",
                  length=4, width=0.8, labelsize=7.5, pad=2, right=True, left=False,
                  labelright=True, labelleft=False)
    a.tick_params(axis="x", which="both", bottom=False, top=False, labelbottom=False)

ax2.spines["bottom"].set_visible(True)
ax2.spines["bottom"].set_color(RED)
ax2.set_xticks(tick_pos)
ax2.set_xticklabels(tick_labels)
ax2.tick_params(axis="x", which="major", bottom=True, labelbottom=True, colors=RED,
                labelcolor=LABEL, direction="out", length=3, width=0.8, labelsize=7.5, pad=3)

# separators / frame
for yy in (589, 685):
    fig.add_artist(Line2D([1067 / W, 1], [1 - yy / H] * 2, color=RED, lw=1.0))
fig.add_artist(Line2D([0, 1], [1 - 845 / H] * 2, color=RED, lw=1.0))
fig.add_artist(Line2D([1.5 / W] * 2, [0, 1], color="#8a8a8a", lw=1.5))
fig.add_artist(Line2D([1116 / W] * 2, [0, 1], color="#9a9a9a", lw=1.2))

# header
hy = 1 - 12 / H
fig.text(5 / W, hy, "@GC - 15 min", color="#e8e8e8", fontsize=7.5, va="center")
fig.text(77 / W, hy, "-2.8", color="#e02020", fontsize=7.5, va="center")
fig.text(102 / W, hy, "-0.22%", color="#e02020", fontsize=7.5, va="center")
fig.text(143 / W, hy, "Hi=1,283.8", color="#e8e8e8", fontsize=7.5, va="center")
fig.text(200 / W, hy, "Lo=1,278.4", color="#e8e8e8", fontsize=7.5, va="center")

fig.savefig("out.png", dpi=100, facecolor="black")
